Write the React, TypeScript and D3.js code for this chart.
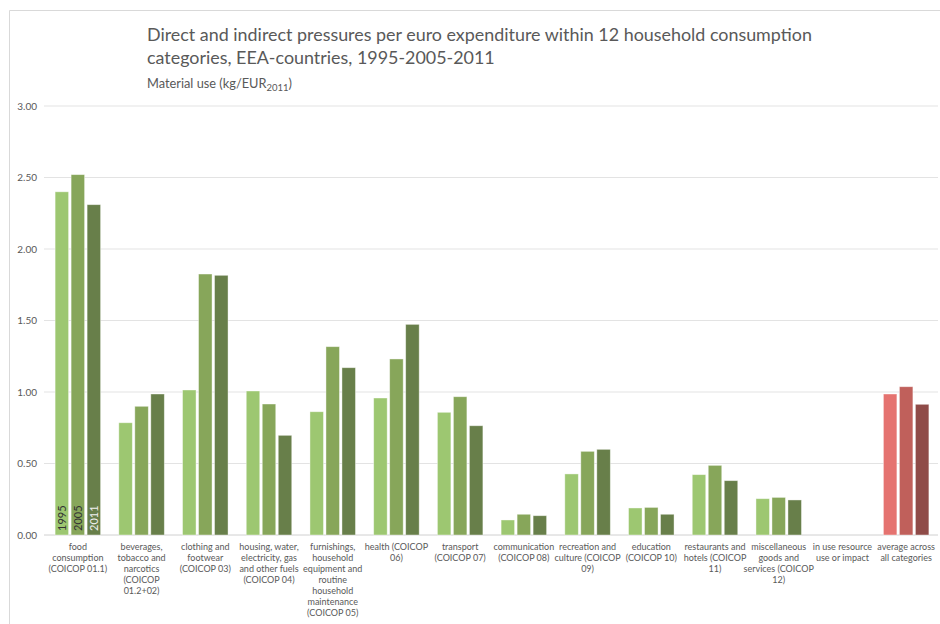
import React from "react";
import * as d3 from "d3";

const categories: string[][] = [
  ["food", "consumption", "(COICOP 01.1)"],
  ["beverages,", "tobacco and", "narcotics", "(COICOP", "01.2+02)"],
  ["clothing and", "footwear", "(COICOP 03)"],
  ["housing, water,", "electricity, gas", "and other fuels", "(COICOP 04)"],
  ["furnishings,", "household", "equipment and", "routine", "household", "maintenance", "(COICOP 05)"],
  ["health (COICOP", "06)"],
  ["transport", "(COICOP 07)"],
  ["communication", "(COICOP 08)"],
  ["recreation and", "culture (COICOP", "09)"],
  ["education", "(COICOP 10)"],
  ["restaurants and", "hotels (COICOP", "11)"],
  ["miscellaneous", "goods and", "services (COICOP", "12)"],
  ["in use resource", "use or impact"],
  ["average across", "all categories"],
];

const years = ["1995", "2005", "2011"];

const values1995: (number | null)[] = [2.40, 0.785, 1.014, 1.007, 0.862, 0.958, 0.858, 0.105, 0.427, 0.189, 0.422, 0.254, null, 0.986];
const values2005: (number | null)[] = [2.52, 0.90, 1.825, 0.916, 1.317, 1.231, 0.967, 0.145, 0.585, 0.193, 0.487, 0.263, null, 1.037];
const values2011: (number | null)[] = [2.31, 0.986, 1.816, 0.697, 1.17, 1.473, 0.764, 0.135, 0.599, 0.145, 0.38, 0.245, null, 0.914];

const yTicks = [0, 0.5, 1, 1.5, 2, 2.5, 3];

const greenColors = ["#9dc771", "#87a65a", "#687f4a"];
const redColors = ["#e57370", "#c0605b", "#8f4b48"];

export default function App() {
  const W = 940, H = 624;
  const x0 = 46, x1 = 938;
  const y = d3.scaleLinear().domain([0, 3]).range([535, 106]);
  const x = d3.scaleBand<number>().domain(d3.range(categories.length)).range([x0, x1]).padding(0);
  const series = [values1995, values2005, values2011];
  const barW = 13.5, step = 16;
  const font = "Lato, 'Open Sans', sans-serif";
  const gray = "#595959";

  return (
    <svg width={W} height={H} style={{ position: "absolute", left: 0, top: 0, background: "#fff" }} fontFamily={font}>
      <rect x={0} y={0} width={W} height={H} fill="#fff" />
      <path d={`M9.5,${H} V10.5 H${W}`} fill="none" stroke="#d9d9d9" strokeWidth={1} />
      <text x={147} y={41} fontSize={17.9} fill={gray}>Direct and indirect pressures per euro expenditure within 12 household consumption</text>
      <text x={147} y={64} fontSize={17.9} fill={gray}>categories, EEA-countries, 1995-2005-2011</text>
      <text x={147} y={88} fontSize={12.8} fill={gray}>
        Material use (kg/EUR<tspan fontSize={9.5} dy={3}>2011</tspan><tspan dy={-3}>)</tspan>
      </text>
      {yTicks.map((t) => (
        <g key={t}>
          <line x1={44} x2={x1} y1={y(t)} y2={y(t)} stroke={t === 0 ? "#d0d0d0" : "#e3e3e3"} strokeWidth={1} />
          <text x={37} y={y(t) + 3.5} fontSize={10} fill={gray} textAnchor="end">{t.toFixed(2)}</text>
        </g>
      ))}
      {categories.map((_, i) => {
        const cx = (x(i) as number) + x.bandwidth() / 2;
        const colors = i === categories.length - 1 ? redColors : greenColors;
        return series.map((s, k) => {
          const v = s[i];
          if (v == null) return null;
          const bx = cx - barW / 2 + (k - 1) * step;
          return (
            <rect key={`${i}-${k}`} x={bx} y={y(v)} width={barW} height={y(0) - y(v)} fill={colors[k]} stroke="#ffffff" strokeOpacity={0.5} strokeWidth={0.8} />
          );
        });
      })}
      {years.map((yr, k) => {
        const cx = (x(0) as number) + x.bandwidth() / 2 + (k - 1) * step;
        return (
          <text key={yr} transform={`translate(${cx + 4},${y(0) - 4}) rotate(-90)`} fontSize={11} fill={k === 2 ? "#f0f0f0" : "#333"}>{yr}</text>
        );
      })}
      {categories.map((lines, i) => {
        const cx = (x(i) as number) + x.bandwidth() / 2;
        return (
          <text key={i} x={cx} y={550} fontSize={9} fill={gray} textAnchor="middle">
            {lines.map((ln, j) => (
              <tspan key={j} x={cx} dy={j === 0 ? 0 : 11}>{ln}</tspan>
            ))}
          </text>
        );
      })}
    </svg>
  );
}
